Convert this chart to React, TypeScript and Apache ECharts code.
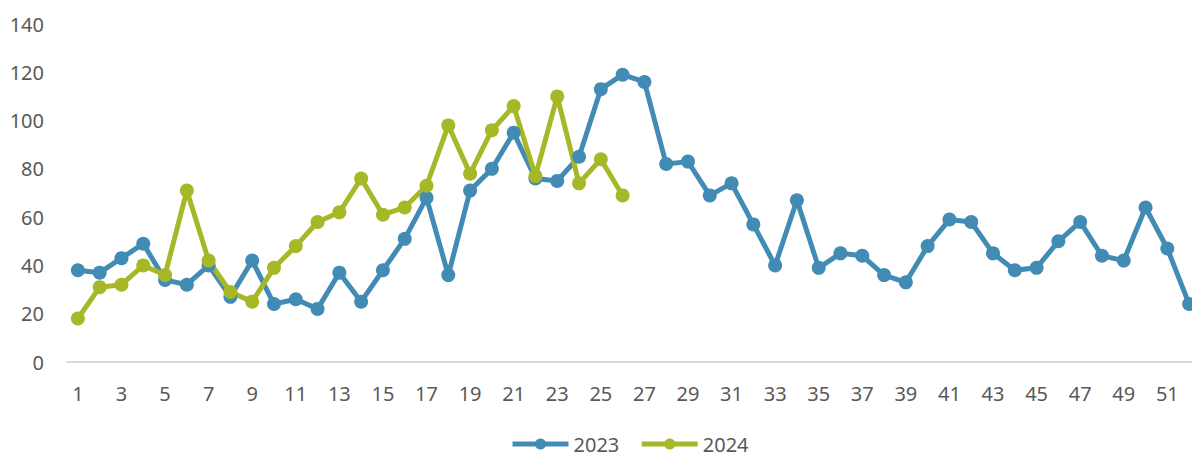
import React, { useEffect, useRef } from "react";
import * as echarts from "echarts";

const weeks: string[] = Array.from({ length: 52 }, (_, i) => String(i + 1));

const values2023: number[] = [
  38, 37, 43, 49, 34, 32, 40, 27, 42, 24,
  26, 22, 37, 25, 38, 51, 68, 36, 71, 80,
  95, 76, 75, 85, 113, 119, 116, 82, 83, 69,
  74, 57, 40, 67, 39, 45, 44, 36, 33, 48,
  59, 58, 45, 38, 39, 50, 58, 44, 42, 64,
  47, 24,
];

const values2024: number[] = [
  18, 31, 32, 40, 36, 71, 42, 29, 25, 39,
  48, 58, 62, 76, 61, 64, 73, 98, 78, 96,
  106, 77, 110, 74, 84, 69,
];

const seriesNames = ["2023", "2024"];
const colors = ["#428BB5", "#A6B828"];
const FONT = "'Noto Sans', 'Open Sans', sans-serif";

export default function App() {
  const ref = useRef<HTMLDivElement>(null);
  useEffect(() => {
    if (!ref.current) return;
    const chart = echarts.init(ref.current, undefined, { renderer: "svg" });
    const mkSeries = (name: string, data: number[], color: string) => ({
      name,
      type: "line",
      data,
      symbol: "circle",
      symbolSize: 14,
      showSymbol: true,
      itemStyle: { color },
      lineStyle: { color, width: 5 },
      emphasis: { disabled: true },
    });
    chart.setOption({
      animation: false,
      backgroundColor: "#ffffff",
      grid: { left: 67, right: 0, top: 24, bottom: 90, containLabel: false },
      legend: {
        left: 510,
        top: 434,
        padding: 0,
        itemWidth: 56,
        itemHeight: 14,
        itemGap: 20,
        lineStyle: { width: 5 },
        textStyle: { fontFamily: FONT, fontSize: 20, color: "#595959" },
        data: seriesNames,
      },
      xAxis: {
        type: "category",
        data: weeks,
        boundaryGap: true,
        axisLine: { lineStyle: { color: "#D9D9D9", width: 2 } },
        axisTick: { show: false },
        axisLabel: {
          interval: 1,
          margin: 21,
          fontFamily: FONT,
          fontSize: 20,
          color: "#595959",
        },
        splitLine: { show: false },
      },
      yAxis: {
        type: "value",
        min: 0,
        max: 140,
        interval: 20,
        axisLine: { show: false },
        axisTick: { show: false },
        splitLine: { show: false },
        axisLabel: {
          margin: 23,
          fontFamily: FONT,
          fontSize: 20,
          color: "#595959",
        },
      },
      series: [
        mkSeries(seriesNames[0], values2023, colors[0]),
        mkSeries(seriesNames[1], values2024, colors[1]),
      ],
    });
    return () => chart.dispose();
  }, []);
  return (
    <div style={{ position: "fixed", left: 0, top: 0, width: 1192, height: 452, overflow: "hidden" }}>
      <div ref={ref} style={{ width: 1200, height: 452 }} />
    </div>
  );
}
